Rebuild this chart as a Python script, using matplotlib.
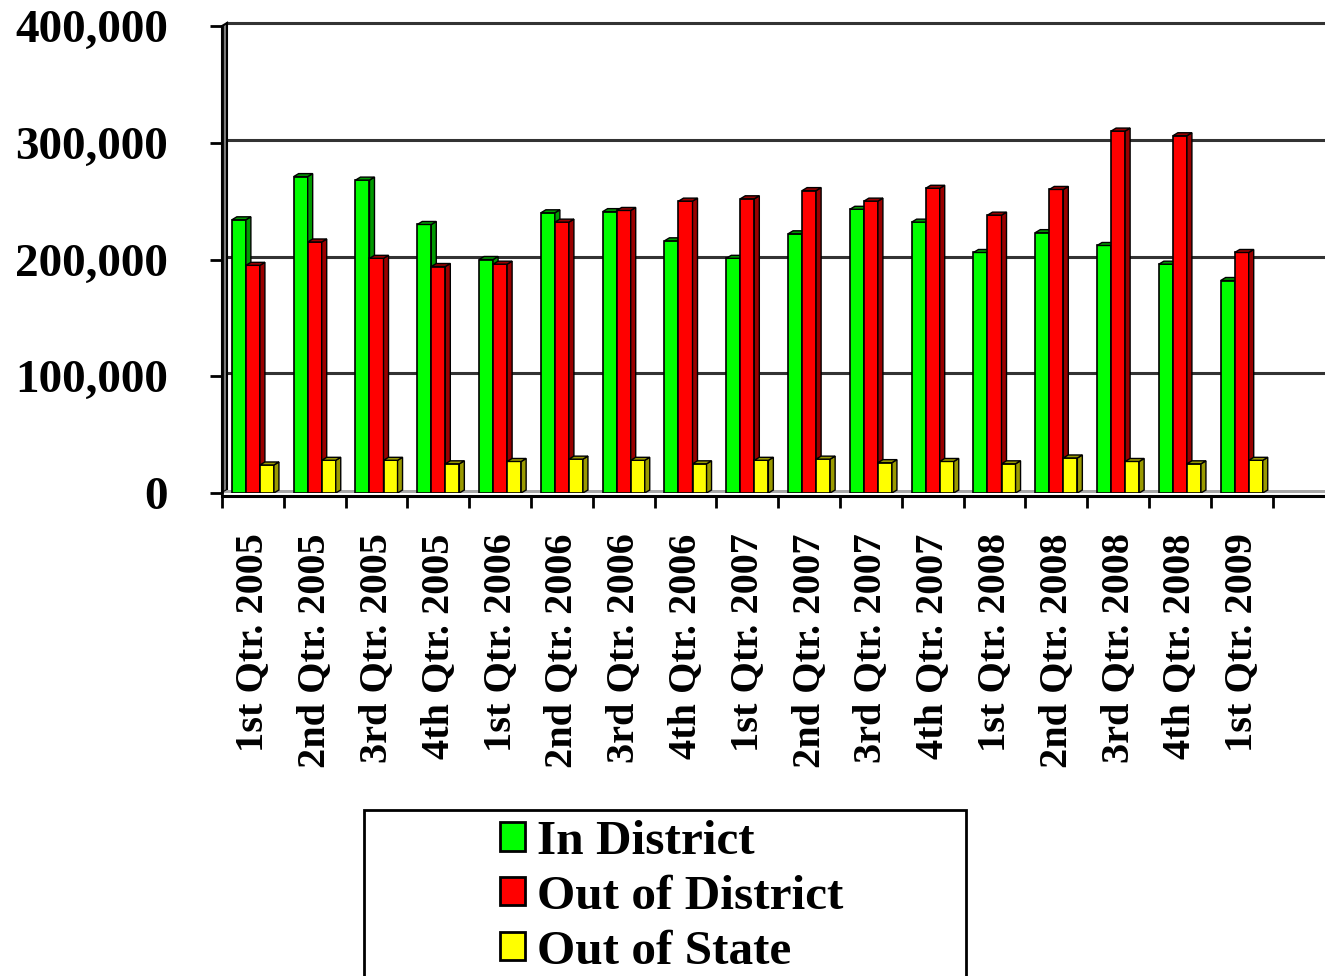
import numpy as np
import matplotlib
matplotlib.use("Agg")
from matplotlib import pyplot as plt
from matplotlib.patches import Polygon, Rectangle, Patch
from matplotlib.ticker import FuncFormatter

plt.rcParams['font.family'] = ['Liberation Serif', 'DejaVu Serif']
plt.rcParams['font.weight'] = 'bold'

quarters = ["1st Qtr. 2005", "2nd Qtr. 2005", "3rd Qtr. 2005", "4th Qtr. 2005",
            "1st Qtr. 2006", "2nd Qtr. 2006", "3rd Qtr. 2006", "4th Qtr. 2006",
            "1st Qtr. 2007", "2nd Qtr. 2007", "3rd Qtr. 2007", "4th Qtr. 2007",
            "1st Qtr. 2008", "2nd Qtr. 2008", "3rd Qtr. 2008", "4th Qtr. 2008",
            "1st Qtr. 2009"]
in_district = [234000, 271000, 268000, 230000, 200000, 240000, 241000, 216000,
               201000, 222000, 243000, 232000, 206000, 223000, 212000, 196000,
               182000]
out_district = [195000, 215000, 201000, 194000, 196000, 232000, 242000, 250000,
                252000, 259000, 250000, 261000, 238000, 260000, 310000, 306000,
                206000]
out_state = [24000, 28000, 28000, 25000, 27000, 29000, 28000, 25000,
             28000, 29000, 26000, 27000, 25000, 30000, 27000, 25000, 28000]

series = [("In District", in_district, "#00ff00", "#009a00"),
          ("Out of District", out_district, "#ff0000", "#9a0000"),
          ("Out of State", out_state, "#ffff00", "#9a9a00")]

W, H = 1325, 976
fig = plt.figure(figsize=(W / 100, H / 100), dpi=100)
ax = fig.add_axes([222 / W, 1 - 493 / H, 1 - 222 / W, (493 - 26) / H])

xmax = -0.5 + (W - 222) / 61.8
ymax = 400000
dx = 5 / 61.8          # fake depth of the 3d look
dy = ymax * 3 / 467
bw = 0.227
x = np.arange(len(quarters))

# back wall grid lines and left wall / floor
for gy in [100000, 200000, 300000, 400000]:
    ax.plot([-0.5 + dx, xmax], [gy + dy, gy + dy], color="#333333", lw=2.2,
            zorder=1, clip_on=False)
ax.add_patch(Polygon([(-0.5, 0), (-0.5 + dx, dy), (-0.5 + dx, ymax + dy), (-0.5, ymax)],
                     closed=True, fc="#7a7a7a", ec="black", lw=1.5, zorder=2, clip_on=False))
ax.add_patch(Polygon([(-0.5, 0), (xmax, 0), (xmax, dy), (-0.5 + dx, dy)],
                     closed=True, fc="#a8a8a8", ec="none", zorder=2, clip_on=False))

z = 3
for k, (name, vals, col, dark) in enumerate(series):
    xs = x + (k - 1) * bw
    ax.bar(xs, vals, width=bw, color=col, edgecolor="black", lw=1.2, zorder=z)
    for xc, v in zip(xs, vals):
        r = xc + bw / 2
        l = xc - bw / 2
        ax.add_patch(Polygon([(r, 0), (r + dx, dy), (r + dx, v + dy), (r, v)],
                             closed=True, fc=dark, ec="black", lw=1.0, zorder=z))
        ax.add_patch(Polygon([(l, v), (l + dx, v + dy), (r + dx, v + dy), (r, v)],
                             closed=True, fc=dark, ec="black", lw=1.0, zorder=z))
    z += 1

ax.set_xlim(-0.5, xmax)
ax.set_ylim(0, ymax)
ax.set_yticks([0, 100000, 200000, 300000, 400000])
ax.yaxis.set_major_formatter(FuncFormatter(lambda v, p: f"{int(v):,}"))
ax.tick_params(axis="y", labelsize=34, length=9, width=2, pad=30)

ax.set_xticks(x, quarters)
ax.set_xticks(np.arange(-0.5, len(quarters), 1), minor=True)
ax.tick_params(axis="x", which="major", length=0, pad=27, labelsize=29, labelrotation=90)
ax.tick_params(axis="x", which="minor", length=8.5, width=2)

for s in ["top", "right"]:
    ax.spines[s].set_visible(False)
ax.spines["left"].set_linewidth(2)
ax.spines["bottom"].set_linewidth(2.2)
ax.spines["bottom"].set_position(("outward", 2))

# legend box runs off the bottom of the figure
fig.patches.append(Rectangle((364 / W, -0.05), (966 - 364) / W, 0.05 + 1 - 810 / H,
                             transform=fig.transFigure, fill=False, ec="black", lw=2))
handles = [Patch(fc=col, ec="black", lw=2) for _, _, col, _ in series]
fig.legend(handles, [s[0] for s in series], loc="upper left",
           bbox_to_anchor=(500 / W, 1 - 820 / H), frameon=False, fontsize=35.5,
           handlelength=0.5, handleheight=0.5, handletextpad=0.26,
           labelspacing=0.22, borderpad=0, borderaxespad=0)

fig.savefig("out.png", dpi=100)
